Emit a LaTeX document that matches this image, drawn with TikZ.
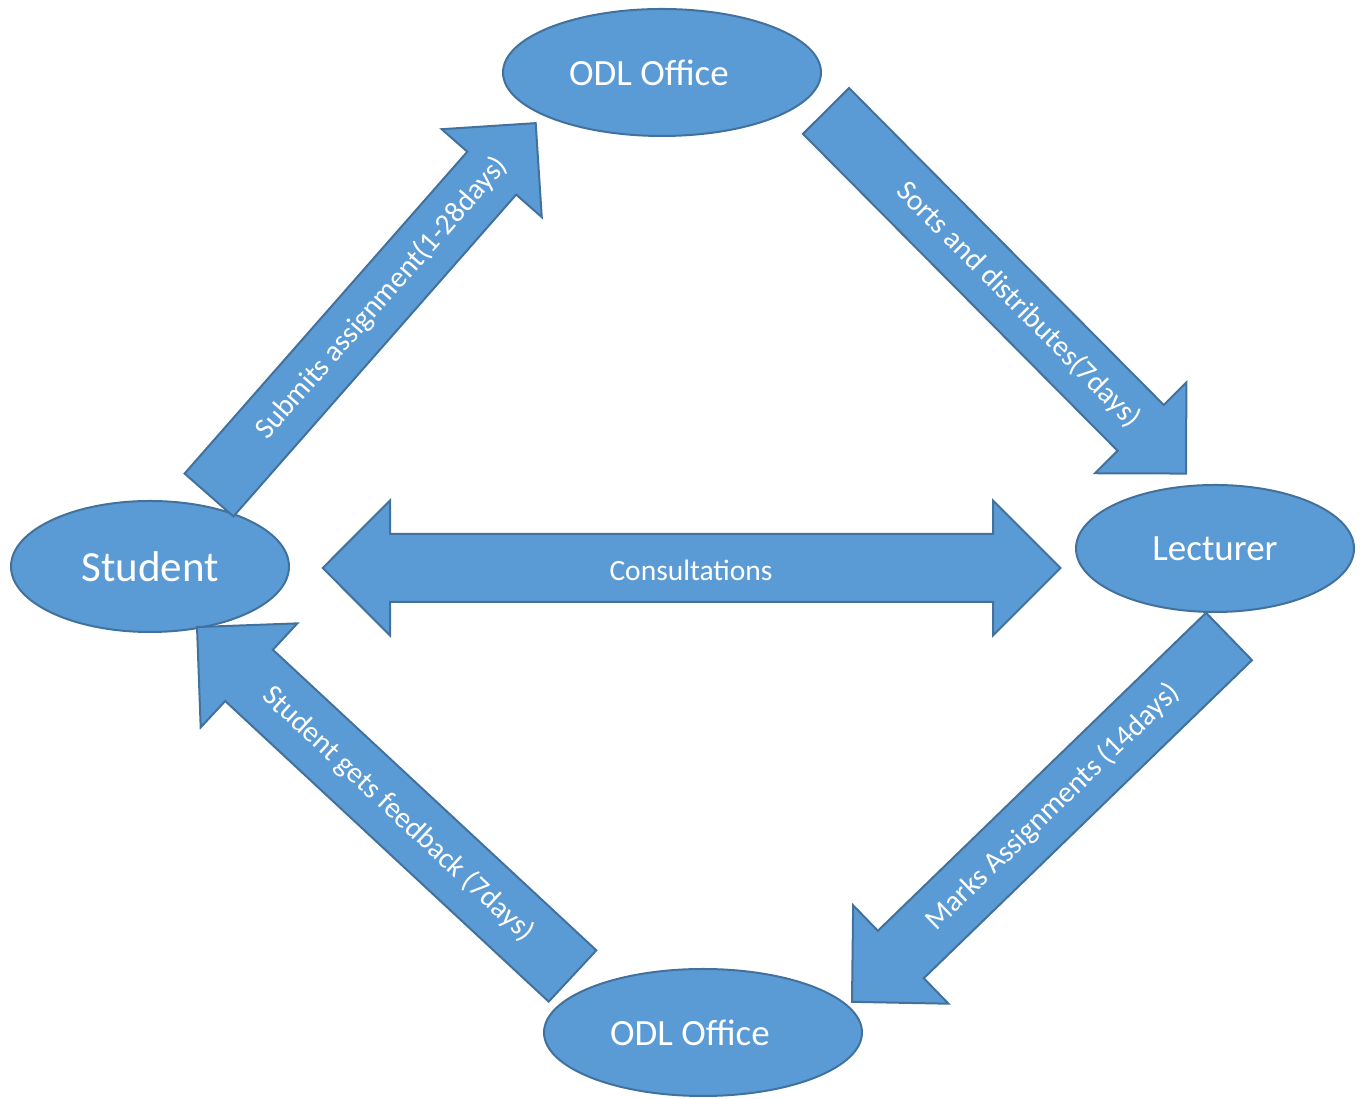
\documentclass[tikz,border=0pt]{standalone}
\usepackage{fontspec}
\setmainfont{Carlito}
\usetikzlibrary{positioning,shapes.geometric,calc}
\definecolor{fillblue}{HTML}{5B9BD5}
\definecolor{edgeblue}{HTML}{41719C}

% block arrow along the x axis of the current scope:
% #1 length, #2 half shaft width, #3 head length, #4 half head width
\newcommand{\blockarrow}[4]{%
  \filldraw[flowarrow] (0,-#2) -- ({#1-#3},-#2) -- ({#1-#3},-#4) -- (#1,0)
    -- ({#1-#3},#4) -- ({#1-#3},#2) -- (0,#2) -- cycle;}

\begin{document}
\begin{tikzpicture}[x=1pt, y=1pt,
    place/.style={ellipse, draw=edgeblue, fill=fillblue, line width=2pt, inner sep=0pt},
    placetext/.style={text=white, inner sep=0pt},
    flowarrow/.style={draw=edgeblue, fill=fillblue, line width=2pt, line join=miter},
    arrowtext/.style={text=white, inner sep=0pt, font=\fontsize{29.5}{35}\selectfont}]

    \useasboundingbox (0,0) rectangle (1361,1099);

    % Lecturer -> ODL office (marks), sits under the lecturer ellipse
    \begin{scope}[shift={(1229,462.5)}, rotate=224.1]
        \blockarrow{525}{33}{68}{68.5}
        \node[arrowtext, rotate=44.1] (marks) at (245,0) {Marks Assignments (14days)};
    \end{scope}

    % The four parties
    \node[place, minimum width=318pt, minimum height=127pt] (odltop) at (662,1026.5) {};
    \node[place, minimum width=278pt, minimum height=131pt] (student) at (150,532.5)
        {\color{white}\fontsize{43}{51}\selectfont Student};
    \node[place, minimum width=278pt, minimum height=127pt] (lecturer) at (1215,550.5)
        {\color{white}\fontsize{37}{44}\selectfont Lecturer};
    \node[place, minimum width=318pt, minimum height=127pt] (odlbottom) at (703,66.5) {};
    \node[placetext, font=\fontsize{37}{44}\selectfont] (odltoplabel)
        at ([xshift=-13pt]odltop.center) {ODL Office};
    \node[placetext, font=\fontsize{37}{44}\selectfont] (odlbottomlabel)
        at ([xshift=-13pt]odlbottom.center) {ODL Office};

    % Student -> ODL office
    \begin{scope}[shift={(209,604)}, rotate=48.7]
        \blockarrow{495}{32.5}{66.6}{66.6}
        \node[arrowtext, rotate=48.7] (submit) at (262,0) {Submits assignment(1-28days)};
    \end{scope}

    % ODL office -> lecturer
    \begin{scope}[shift={(826,988)}, rotate=-45.2]
        \blockarrow{511}{32.5}{64.4}{64.4}
        \node[arrowtext, rotate=-45.2] (sorts) at (273,0) {Sorts and distributes(7days)};
    \end{scope}

    % ODL office -> student
    \begin{scope}[shift={(572.5,123)}, rotate=137.1]
        \blockarrow{512.6}{35}{71}{71}
        \node[arrowtext, rotate=-42.9] (feedback) at (238,0) {Student gets feedback (7days)};
    \end{scope}

    % Consultations, both ways
    \filldraw[flowarrow] (322.7,531) -- (390,598.5) -- (390,565) -- (993,565)
        -- (993,598.5) -- (1060.5,531) -- (993,463.5) -- (993,497) -- (390,497)
        -- (390,463.5) -- cycle;
    \node[arrowtext] (consult) at (691,529) {Consultations};
\end{tikzpicture}
\end{document}
